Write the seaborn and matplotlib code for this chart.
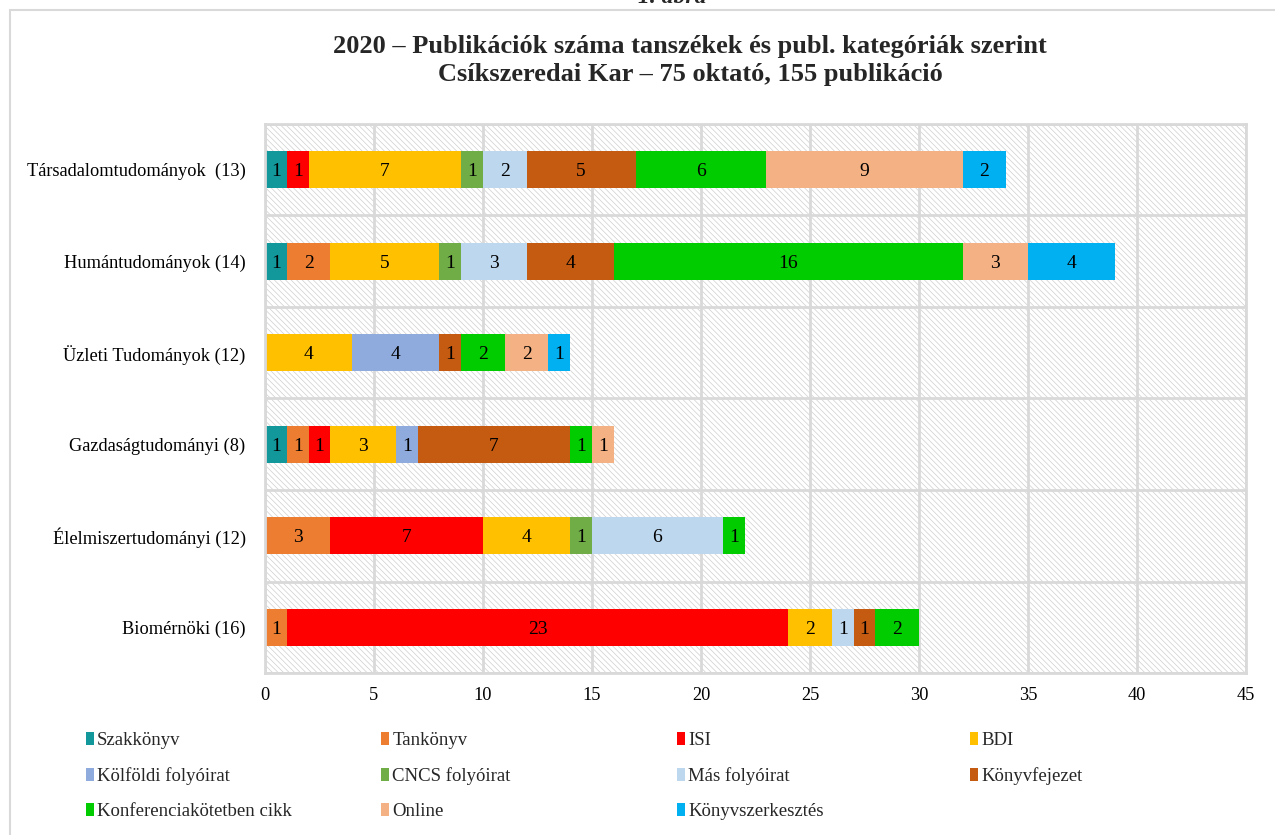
import matplotlib
matplotlib.use("Agg")
import matplotlib.pyplot as plt
from matplotlib.patches import Rectangle, Patch
import numpy as np
import seaborn as sns

categories = ["Társadalomtudományok  (13)", "Humántudományok (14)", "Üzleti Tudományok (12)",
              "Gazdaságtudományi (8)", "Élelmiszertudományi (12)", "Biomérnöki (16)"]
series = ["Szakkönyv", "Tankönyv", "ISI", "BDI", "Kölföldi folyóirat", "CNCS folyóirat",
          "Más folyóirat", "Könyvfejezet", "Konferenciakötetben cikk", "Online", "Könyvszerkesztés"]
szakkonyv = [1, 1, 0, 1, 0, 0]
tankonyv = [0, 2, 0, 1, 3, 1]
isi = [1, 0, 0, 1, 7, 23]
bdi = [7, 5, 4, 3, 4, 2]
kolfoldi = [0, 0, 4, 1, 0, 0]
cncs = [1, 1, 0, 0, 1, 0]
mas = [2, 3, 0, 0, 6, 1]
konyvfejezet = [5, 4, 1, 7, 0, 1]
konferencia = [6, 16, 2, 1, 1, 2]
online = [9, 3, 2, 1, 0, 0]
konyvszerk = [2, 4, 1, 0, 0, 0]
values = [szakkonyv, tankonyv, isi, bdi, kolfoldi, cncs, mas, konyvfejezet, konferencia, online, konyvszerk]
colors = ["#12979A", "#ED7D31", "#FF0000", "#FFC000", "#8FAADC", "#70AD47",
          "#BDD7EE", "#C55A11", "#00CC00", "#F4B183", "#00B0F0"]
xticks = [0, 5, 10, 15, 20, 25, 30, 35, 40, 45]

sns.set_theme(style="white")
plt.rcParams["font.family"] = ["Liberation Serif", "DejaVu Serif"]
plt.rcParams["hatch.linewidth"] = 0.5

W, H = 1275, 835
fig = plt.figure(figsize=(W / 100, H / 100), dpi=100)
ax = fig.add_axes([265 / W, 1 - 673 / H, (1246 - 265) / W, (673 - 124) / H])

vals = np.array(values, dtype=float)
cum = np.cumsum(vals, axis=0)

for i in reversed(range(len(series))):
    sns.barplot(x=cum[i], y=categories, orient="h", color=colors[i], saturation=1,
                width=0.4, linewidth=0, errorbar=None, ax=ax, zorder=2)

for i in range(len(series)):
    for j in range(len(categories)):
        v = vals[i, j]
        if v > 0:
            ax.text(cum[i, j] - v / 2, j + 0.02, f"{int(v)}", ha="center", va="center",
                    fontsize=14, color="black", zorder=4)

ax.add_patch(Rectangle((0, 0), 1, 1, transform=ax.transAxes, facecolor="white",
                       edgecolor="#cfcfcf", hatch="\\\\\\\\\\\\", linewidth=0, zorder=0))
for xv in xticks:
    ax.axvline(xv, color="#d9d9d9", lw=2, zorder=1)
for k in range(len(categories) + 1):
    ax.axhline(k - 0.5, color="#d9d9d9", lw=2, zorder=1)

ax.set_xlim(0, 45)
ax.set_ylim(len(categories) - 0.5, -0.5)
ax.set_xticks(xticks)
ax.set_xticklabels([str(x) for x in xticks])
ax.set_xlabel("")
ax.set_ylabel("")
ax.tick_params(axis="both", length=0, labelsize=13.2, colors="black")
ax.tick_params(axis="y", pad=14)
ax.tick_params(axis="x", pad=10)
for s in ax.spines.values():
    s.set_color("#d9d9d9")
    s.set_linewidth(2)
ax.grid(False)

fig.text(690 / W, 1 - 47 / H, "2020 – Publikációk száma tanszékek és publ. kategóriák szerint",
         ha="center", va="center", fontsize=19, fontweight="bold")
fig.text(690 / W, 1 - 75 / H, "Csíkszeredai Kar – 75 oktató, 155 publikáció",
         ha="center", va="center", fontsize=19, fontweight="bold")
fig.text(672 / W, 1 - 3 / H, "1. ábra", ha="center", va="baseline", fontsize=17,
         fontstyle="italic", fontweight="bold")

fig.add_artist(Rectangle((10 / W, -0.1), 1.2, 1.1 - 10 / H, transform=fig.transFigure,
                         fill=False, edgecolor="#d9d9d9", lw=1.5))

col_x = [86, 381, 677, 970]
for c in range(4):
    idx = [k for k in range(c, len(series), 4)]
    handles = [Patch(facecolor=colors[k], edgecolor="none", label=series[k]) for k in idx]
    fig.legend(handles=handles, loc="upper left", bbox_to_anchor=(col_x[c] / W, 1 - 732 / H),
               frameon=False, fontsize=13.5, handlelength=0.45, handleheight=0.7,
               handletextpad=0.15, labelspacing=0.95, borderpad=0, borderaxespad=0)

fig.savefig("out.png", dpi=100)
